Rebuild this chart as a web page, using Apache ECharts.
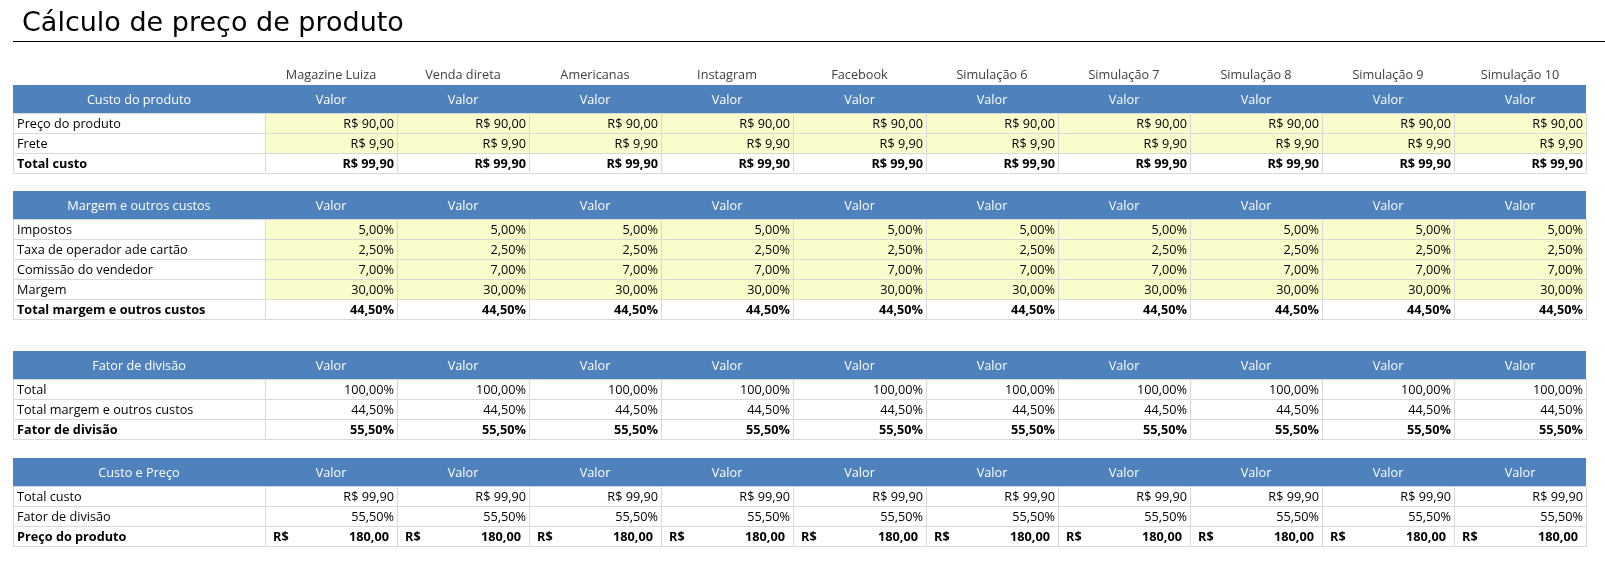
<!DOCTYPE html>
<html>
<head>
<meta charset="utf-8">
<title>Cálculo de preço de produto</title>
<script src="https://cdn.jsdelivr.net/npm/echarts@6/dist/echarts.min.js"></script>
<style>
  html, body { margin: 0; padding: 0; background: #fff; }
  #main { width: 1605px; height: 562px; }
</style>
</head>
<body>
<div id="main"></div>
<script>
// canais de venda (colunas)
var canais = ['Magazine Luiza', 'Venda direta', 'Americanas', 'Instagram', 'Facebook',
  'Simulação 6', 'Simulação 7', 'Simulação 8', 'Simulação 9', 'Simulação 10'];

// custo do produto (R$)
var precoProduto = [90, 90, 90, 90, 90, 90, 90, 90, 90, 90];
var frete = [9.9, 9.9, 9.9, 9.9, 9.9, 9.9, 9.9, 9.9, 9.9, 9.9];
var totalCusto = [99.9, 99.9, 99.9, 99.9, 99.9, 99.9, 99.9, 99.9, 99.9, 99.9];

// margem e outros custos (%)
var impostos = [5, 5, 5, 5, 5, 5, 5, 5, 5, 5];
var taxaCartao = [2.5, 2.5, 2.5, 2.5, 2.5, 2.5, 2.5, 2.5, 2.5, 2.5];
var comissao = [7, 7, 7, 7, 7, 7, 7, 7, 7, 7];
var margem = [30, 30, 30, 30, 30, 30, 30, 30, 30, 30];
var totalMargem = [44.5, 44.5, 44.5, 44.5, 44.5, 44.5, 44.5, 44.5, 44.5, 44.5];

// fator de divisão (%)
var totalBase = [100, 100, 100, 100, 100, 100, 100, 100, 100, 100];
var fatorDivisao = [55.5, 55.5, 55.5, 55.5, 55.5, 55.5, 55.5, 55.5, 55.5, 55.5];

// preço final (R$)
var precoFinal = [180, 180, 180, 180, 180, 180, 180, 180, 180, 180];

var secoes = [
  { titulo: 'Custo do produto', linhas: [
    { nome: 'Preço do produto', valores: precoProduto, tipo: 'moeda', entrada: true },
    { nome: 'Frete', valores: frete, tipo: 'moeda', entrada: true },
    { nome: 'Total custo', valores: totalCusto, tipo: 'moeda', negrito: true }
  ]},
  { titulo: 'Margem e outros custos', linhas: [
    { nome: 'Impostos', valores: impostos, tipo: 'pct', entrada: true },
    { nome: 'Taxa de operador ade cartão', valores: taxaCartao, tipo: 'pct', entrada: true },
    { nome: 'Comissão do vendedor', valores: comissao, tipo: 'pct', entrada: true },
    { nome: 'Margem', valores: margem, tipo: 'pct', entrada: true },
    { nome: 'Total margem e outros custos', valores: totalMargem, tipo: 'pct', negrito: true }
  ]},
  { titulo: 'Fator de divisão', linhas: [
    { nome: 'Total', valores: totalBase, tipo: 'pct' },
    { nome: 'Total margem e outros custos', valores: totalMargem, tipo: 'pct' },
    { nome: 'Fator de divisão', valores: fatorDivisao, tipo: 'pct', negrito: true }
  ]},
  { titulo: 'Custo e Preço', linhas: [
    { nome: 'Total custo', valores: totalCusto, tipo: 'moeda' },
    { nome: 'Fator de divisão', valores: fatorDivisao, tipo: 'pct' },
    { nome: 'Preço do produto', valores: precoFinal, tipo: 'contabil', negrito: true }
  ]}
];

// layout da planilha
var AZUL = '#4F81BD';
var AMARELO = '#FAFCCC';
var GRADE = '#D9D9D9';
var FONTE = '"Open Sans", sans-serif';
var TAM = 12.7;
var LARG_ROTULO = 1.908;      // largura da coluna de rótulos, em colunas de valor
var Y_INICIO = 64;
var ALT_NOMES = 21, ALT_CAB = 28, ALT_LINHA = 20;
var espacos = [18, 32, 19];

function num(v) { return v.toFixed(2).replace('.', ','); }
function formatar(v, tipo) {
  if (tipo === 'pct') return num(v) + '%';
  return 'R$ ' + num(v);
}

var celulas = [];
var y = Y_INICIO;
canais.forEach(function (nome, i) {
  celulas.push({ x0: i, x1: i + 1, y0: y, y1: y + ALT_NOMES, texto: nome, alinhar: 'center', cor: '#404040' });
});
y += ALT_NOMES;

secoes.forEach(function (s, si) {
  if (si > 0) y += espacos[si - 1];
  celulas.push({ x0: -LARG_ROTULO, x1: canais.length, y0: y, y1: y + ALT_CAB, fundo: AZUL });
  celulas.push({ x0: -LARG_ROTULO, x1: 0, y0: y, y1: y + ALT_CAB, texto: s.titulo, alinhar: 'center', cor: '#fff' });
  canais.forEach(function (c, i) {
    celulas.push({ x0: i, x1: i + 1, y0: y, y1: y + ALT_CAB, texto: 'Valor', alinhar: 'center', cor: '#fff' });
  });
  y += ALT_CAB;
  s.linhas.forEach(function (l) {
    celulas.push({ x0: -LARG_ROTULO, x1: 0, y0: y, y1: y + ALT_LINHA, fundo: '#fff', borda: true,
      texto: l.nome, alinhar: 'left', negrito: l.negrito, cor: '#000' });
    l.valores.forEach(function (v, i) {
      var cel = { x0: i, x1: i + 1, y0: y, y1: y + ALT_LINHA, fundo: l.entrada ? AMARELO : '#fff', borda: true,
        negrito: l.negrito, cor: '#000' };
      if (l.tipo === 'contabil') {
        cel.texto = num(v);
        cel.prefixo = 'R$';
        cel.alinhar = 'right';
        cel.margem = 8;
      } else {
        cel.texto = formatar(v, l.tipo);
        cel.alinhar = 'right';
      }
      celulas.push(cel);
    });
    y += ALT_LINHA;
  });
});

function desenharCelula(params, api) {
  var c = celulas[params.dataIndex];
  var p0 = api.coord([api.value(0), api.value(1)]);
  var p1 = api.coord([api.value(2), api.value(3)]);
  var x = Math.round(p0[0]), yy = Math.round(p0[1]);
  var w = Math.round(p1[0]) - x, h = Math.round(p1[1]) - yy;
  var filhos = [];
  if (c.fundo) {
    filhos.push({
      type: 'rect',
      shape: c.borda ? { x: x + 0.5, y: yy + 0.5, width: w, height: h } : { x: x, y: yy, width: w, height: h },
      style: { fill: c.fundo, stroke: c.borda ? GRADE : null, lineWidth: 1 }
    });
  }
  var fonte = (c.negrito ? 'bold ' : '') + TAM + 'px ' + FONTE;
  if (c.texto) {
    var tx = c.alinhar === 'center' ? x + w / 2 : (c.alinhar === 'left' ? x + 4 : x + w - (c.margem || 3));
    filhos.push({
      type: 'text',
      style: { text: c.texto, x: tx, y: yy + h / 2 + 1, textAlign: c.alinhar, textVerticalAlign: 'middle',
        font: fonte, fill: c.cor }
    });
  }
  if (c.prefixo) {
    filhos.push({
      type: 'text',
      style: { text: c.prefixo, x: x + 8, y: yy + h / 2 + 1, textAlign: 'left', textVerticalAlign: 'middle',
        font: fonte, fill: c.cor }
    });
  }
  return { type: 'group', children: filhos };
}

var chart = echarts.init(document.getElementById('main'));
chart.setOption({
  animation: false,
  title: {
    text: 'Cálculo de preço de produto',
    left: 17,
    top: 5,
    textStyle: { fontFamily: '"DejaVu Sans", sans-serif', fontSize: 27, fontWeight: 'normal', color: '#000' }
  },
  graphic: [{
    type: 'line',
    shape: { x1: 13, y1: 41.5, x2: 1605, y2: 41.5 },
    style: { stroke: '#000', lineWidth: 1 }
  }],
  grid: { left: 13, right: 19, top: Y_INICIO, bottom: 562 - y },
  xAxis: { type: 'value', min: -LARG_ROTULO, max: canais.length, show: false },
  yAxis: { type: 'value', min: Y_INICIO, max: y, inverse: true, show: false },
  series: [{
    type: 'custom',
    silent: true,
    renderItem: desenharCelula,
    encode: { x: [0, 2], y: [1, 3] },
    data: celulas.map(function (c) { return [c.x0, c.y0, c.x1, c.y1]; })
  }]
});
</script>
</body>
</html>
